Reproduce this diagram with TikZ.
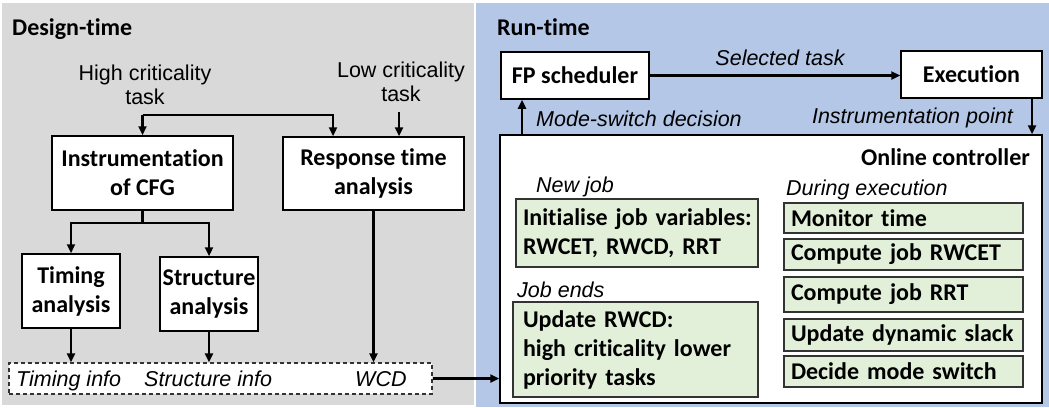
\documentclass[tikz,border=0pt]{standalone}
\usepackage{fontspec}
\setmainfont{Liberation Sans}
\newfontfamily\calibrifont{Carlito}[Ligatures=NoCommon]
\usetikzlibrary{arrows.meta}

\definecolor{panelgray}{HTML}{D9D9D9}
\definecolor{panelblue}{HTML}{B4C7E7}
\definecolor{boxgreen}{HTML}{E2F0D9}

\begin{document}
\begin{tikzpicture}[x=1pt,y=-1pt,
  lbl/.style={font=\fontsize{21.5}{24}\selectfont\itshape, inner sep=0pt},
  plain/.style={font=\fontsize{21.5}{24}\selectfont, inner sep=0pt, align=center},
  hdr/.style={font=\fontsize{24}{29}\calibrifont\bfseries, inner sep=0pt},
  wbox/.style={draw=black, line width=1.5pt, fill=white,
    font=\fontsize{24}{29}\calibrifont\bfseries, align=center, inner sep=0pt},
  gbox/.style={draw=black!80, line width=1.5pt, fill=boxgreen,
    font=\fontsize{24}{29}\calibrifont\bfseries, align=left, inner ysep=0pt},
  infobox/.style={draw=black!80, line width=1.2pt, dash pattern=on 4pt off 3pt,
    fill=white, inner sep=0pt},
  arr/.style={line width=2.5pt, -{Triangle[length=9pt,width=8pt]}},
  link/.style={line width=2.5pt},
  rcol/.style={gbox, text width=225pt, inner xsep=7pt},
]
\useasboundingbox (0,0) rectangle (1049,407);

% panels
\fill[panelgray] (2,3) rectangle (474,405);
\fill[panelblue] (476,3) rectangle (1049,407);

\node[hdr, anchor=base west] (dt) at (12,35) {Design-time};
\node[hdr, anchor=base west] (rt) at (497,35) {Run-time};

% ---------- design-time ----------
\node[plain, anchor=north] (hct) at (145,64.5) {High criticality\\task};
\node[plain, anchor=north] (lct) at (401,62) {Low criticality\\task};

\node[wbox, minimum width=181pt, minimum height=74pt] (instr) at (142.5,173) {Instrumentation\\of CFG};
\node[wbox, minimum width=181pt, minimum height=73pt] (resp) at (373.5,173.5) {Response time\\analysis};
\node[wbox, minimum width=98pt, minimum height=74pt] (timing) at (71,291) {Timing\\analysis};
\node[wbox, minimum width=98pt, minimum height=74pt] (struct) at (209,294) {Structure\\analysis};

\node[infobox, minimum width=423pt, minimum height=31pt] (info) at (220.5,378.5) {};
\node[lbl, anchor=base west] (tinfo) at (16,386) {Timing info};
\node[lbl, anchor=base west] (sinfo) at (144,386) {Structure info};
\node[lbl, anchor=base west] (wcd) at (355,386) {WCD};

\coordinate (hc) at (142.5,115);
\coordinate (rj) at (333,115);
\coordinate (lc) at (399,112);
\coordinate (bj) at (142.5,223);

\draw[arr] (hc) -- (instr.north);
\draw[arr] (hc) -- (rj) -- (rj |- resp.north);
\draw[arr] (lc) -- (lc |- resp.north);
\draw[link] (instr.south) -- (bj);
\draw[arr] (bj) -| (timing.north);
\draw[arr] (bj) -| (struct.north);
\draw[arr] (timing.south) -- (timing.south |- info.north);
\draw[arr] (struct.south) -- (struct.south |- info.north);
\draw[arr] (resp.south) -- (resp.south |- info.north);

% ---------- run-time ----------
\node[wbox, minimum width=148pt, minimum height=47pt] (fp) at (575,75.5) {FP scheduler};
\node[wbox, minimum width=141pt, minimum height=47pt] (exec) at (971.5,74.5) {Execution};
\node[wbox, minimum width=542pt, minimum height=268pt] (ctrl) at (771,269) {};
\node[hdr, anchor=base east] (ctitle) at (1030,165) {Online controller};

\node[lbl, anchor=base] (sel) at (780,65) {Selected task};
\node[lbl, anchor=base west] (msd) at (536,126) {Mode-switch decision};
\node[lbl, anchor=base east] (ipt) at (1013,123) {Instrumentation point};

\coordinate (ipx) at (1032,0);
\coordinate (msx) at (522,0);
\draw[arr] (fp.east) -- (fp.east -| exec.west);
\draw[arr] (exec.south -| ipx) -- (ipx |- ctrl.north);
\draw[arr] (msx |- ctrl.north) -- (msx |- fp.south);
\draw[arr] (info.east) -- (info.east -| ctrl.west);

\node[lbl, anchor=base west] (nj) at (536,192) {New job};
\node[lbl, anchor=base west] (de) at (786,195) {During execution};
\node[lbl, anchor=base west] (je) at (517,297) {Job ends};

\node[gbox, text width=228pt, inner xsep=7pt, minimum height=68pt] (init) at (637,233)
  {\mbox{Initialise job variables:}\\\mbox{RWCET, RWCD, RRT}};
\node[gbox, text width=225pt, inner xsep=10pt, minimum height=95pt] (upd) at (635.5,349.5)
  {\mbox{Update RWCD:}\\\mbox{high criticality lower}\\\mbox{priority tasks}};

\node[rcol, minimum height=30pt] (mon) at (903.5,218) {\mbox{Monitor time}};
\node[rcol, minimum height=31pt] (rwcet) at (903.5,254.5) {\mbox{Compute job RWCET}};
\node[rcol, minimum height=35pt] (rrt) at (903.5,294.5) {\mbox{Compute job RRT}};
\node[rcol, minimum height=32pt] (slack) at (903.5,335) {\mbox{Update dynamic slack}};
\node[rcol, minimum height=31pt] (mode) at (903.5,371.5) {\mbox{Decide mode switch}};
\end{tikzpicture}
\end{document}
